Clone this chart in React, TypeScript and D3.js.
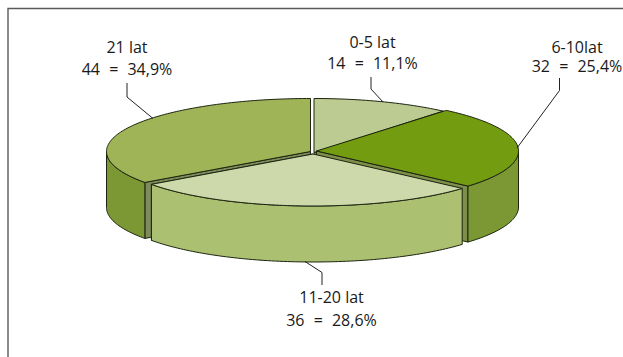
import React from "react";
import * as d3 from "d3";

// Years of service, grouped; shares drawn clockwise from twelve o'clock.
const categories = ["0-5 lat", "6-10lat", "11-20 lat", "21 lat"];
const counts = [14, 32, 36, 44];
const shareLabels = ["14 = 11,1%", "32 = 25,4%", "36 = 28,6%", "44 = 34,9%"];

const topColors = ["#bccb91", "#739c10", "#cdd8ab", "#9fb456"];
const wallColors = ["#7e8c5c", "#7b9834", "#abc071", "#7b9834"];
const cutColors = ["#7e8f4c", "#7e8f4c", "#7e8f4c", "#7e8c5c"];

// Each slice is pulled a little away from the pie centre, and the perspective
// makes the radii differ slightly from slice to slice.
const apexes: [number, number][] = [
  [314, 152.5],
  [316.5, 151],
  [313, 154],
  [310.5, 151.5],
];
const radiiX = [201, 202, 199, 204];
const radiiY = [54, 53, 52, 53];
const depth = 56;

const titlePos: [number, number][] = [
  [372.5, 48],
  [577, 53],
  [331.5, 303],
  [127, 53],
];
const sharePos: [number, number][] = [
  [372.5, 69],
  [577, 72],
  [331.5, 326],
  [127, 75],
];
const leaders: [number, number][][] = [
  [[371, 77], [371, 89], [383, 102]],
  [[559.5, 78], [559.5, 90.5], [517, 148]],
  [[322, 285], [322, 272.5], [305, 261.5]],
  [[127, 83], [127, 97], [153, 118.5]],
];

const drawOrder = [0, 3, 1, 2];

const pie = d3.pie<number>().sort(null)(counts);
const line = d3.line();

function rim(i: number, a: number): [number, number] {
  const [cx, cy] = apexes[i];
  return [cx + radiiX[i] * Math.sin(a), cy - radiiY[i] * Math.cos(a)];
}

function arcPoints(i: number, a0: number, a1: number): [number, number][] {
  const n = Math.max(2, Math.ceil((a1 - a0) / 0.02));
  return d3.range(n + 1).map((k) => rim(i, a0 + ((a1 - a0) * k) / n));
}

const drop = (pts: [number, number][]): [number, number][] =>
  pts.map(([x, y]) => [x, y + depth]);

function topPath(i: number): string {
  const { startAngle, endAngle } = pie[i];
  return line([apexes[i], ...arcPoints(i, startAngle, endAngle)])! + "Z";
}

// The curved outer wall exists only for the part of the rim that faces the viewer.
function wallPath(i: number): string | null {
  const a0 = Math.max(pie[i].startAngle, Math.PI / 2);
  const a1 = Math.min(pie[i].endAngle, (3 * Math.PI) / 2);
  if (a1 <= a0) return null;
  const pts = arcPoints(i, a0, a1);
  return line([...pts, ...drop(pts).reverse()])! + "Z";
}

// Straight cut face along one radial edge of a slice.
function cutPath(i: number, angle: number): string {
  const pts: [number, number][] = [apexes[i], rim(i, angle)];
  return line([...pts, ...drop(pts).reverse()])! + "Z";
}

export default function App() {
  return (
    <svg
      width={623}
      height={357}
      style={{ position: "absolute", left: 0, top: 0, background: "#fff" }}
    >
      <path d="M8,357V8.5H623" fill="none" stroke="#5a5a5a" strokeWidth={1.4} />
      {drawOrder.map((i) => {
        const wall = wallPath(i);
        return (
          <g key={categories[i]} stroke="#1c2410" strokeWidth={1} strokeLinejoin="round">
            <path
              d={cutPath(i, i === 3 ? pie[i].startAngle : pie[i].endAngle)}
              fill={cutColors[i]}
            />
            {wall && <path d={wall} fill={wallColors[i]} />}
            <path d={topPath(i)} fill={topColors[i]} />
          </g>
        );
      })}
      {leaders.map((pts, i) => (
        <path key={i} d={line(pts)!} fill="none" stroke="#222" strokeWidth={1} />
      ))}
      <g fontFamily="'Open Sans', sans-serif" fontSize={16} fill="#1a1a1a" textAnchor="middle">
        {categories.map((c, i) => (
          <g key={c}>
            <text x={titlePos[i][0]} y={titlePos[i][1]}>{c}</text>
            <text x={sharePos[i][0]} y={sharePos[i][1]} wordSpacing={5}>
              {shareLabels[i]}
            </text>
          </g>
        ))}
      </g>
    </svg>
  );
}
